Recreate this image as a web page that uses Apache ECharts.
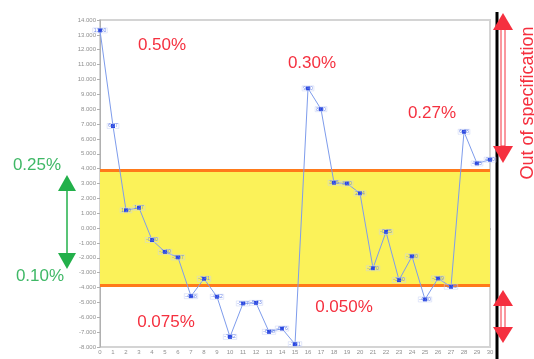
<!DOCTYPE html>
<html>
<head>
<meta charset="utf-8">
<title>ECharts</title>
<script type="text/javascript" src="https://cdn.jsdelivr.net/npm/echarts@6/dist/echarts.min.js"></script>
<style type="text/css">
html, body {
	margin: 0;
	height: 100%;
	overflow: hidden;
	background: #ffffff;
}
</style>
</head>
<body>
	<div id="main" style="width: 534px; height: 359px;"></div>
	<script type="text/javascript">
		// sample index on x, measured value on y
		var xValues = [0, 1, 2, 3, 4, 5, 6, 7, 8, 9, 10, 11, 12, 13, 14, 15,
			16, 17, 18, 19, 20, 21, 22, 23, 24, 25, 26, 27, 28, 29, 30];
		var yValues = [13.3, 6.87, 1.2, 1.37, -0.8, -1.6, -1.97, -4.58, -3.41, -4.62, -7.32,
			-5.07, -5.03, -6.98, -6.76, -7.81, 9.4, 8.0, 3.05, 3.0, 2.34,
			-2.7, -0.25, -3.5, -1.9, -4.8, -3.39, -3.95, 6.48, 4.35, 4.6];
		// spec limits (yellow band)
		var upperLimit = 3.9;
		var lowerLimit = -3.85;
		// percentages written on the chart
		var redNotes = ['0.50%', '0.30%', '0.27%', '0.075%', '0.050%'];
		var greenNotes = ['0.25%', '0.10%'];

		var points = xValues.map(function(x, i) {
			return [x, yValues[i]];
		});

		var red = '#f5303f';
		var green = '#22b04a';

		var myChart = echarts.init(document.getElementById('main'));
		var option = {
			animation : false,
			grid : {
				left : 100,
				right : 44,
				top : 20,
				bottom : 12,
				show : true,
				borderColor : '#d4d4d4',
				borderWidth : 2,
				backgroundColor : '#ffffff'
			},
			xAxis : {
				type : 'value',
				min : 0,
				max : 30,
				interval : 1,
				splitLine : { show : false },
				axisLine : { lineStyle : { color : '#b0b0b0' } },
				axisTick : { length : 2, lineStyle : { color : '#b0b0b0' } },
				axisLabel : { fontSize : 6, color : '#909090', margin : 2 }
			},
			yAxis : {
				type : 'value',
				min : -8,
				max : 14,
				interval : 1,
				splitLine : { show : false },
				axisLine : { show : true, lineStyle : { color : '#b0b0b0' } },
				axisTick : { show : true, length : 3, lineStyle : { color : '#b0b0b0' } },
				axisLabel : {
					fontSize : 6,
					color : '#909090',
					margin : 4,
					formatter : function(v) { return v.toFixed(3); }
				}
			},
			series : [ {
				type : 'line',
				data : points,
				symbol : 'rect',
				symbolSize : 4,
				lineStyle : { color : '#7e9cec', width : 1 },
				itemStyle : { color : '#2a46e0' },
				label : {
					show : true,
					position : 'inside',
					fontSize : 5,
					color : '#6a84e8',
					borderColor : '#c6d0f4',
					borderWidth : 0.5,
					padding : [0, 1],
					formatter : function(p) { return p.value[1].toFixed(2); }
				},
				z : 5,
				markArea : {
					silent : true,
					itemStyle : { color : '#fbf259' },
					data : [ [ { yAxis : lowerLimit }, { yAxis : upperLimit } ] ]
				},
				markLine : {
					silent : true,
					symbol : 'none',
					label : { show : false },
					lineStyle : { color : '#ff7a1a', width : 3, type : 'solid' },
					data : [ { yAxis : upperLimit }, { yAxis : lowerLimit } ]
				}
			} ],
			graphic : [
				// black separator
				{ type : 'line', shape : { x1 : 497, y1 : 12, x2 : 497, y2 : 359 },
					style : { stroke : '#000', lineWidth : 3 } },
				// upper red arrow
				{ type : 'rect', shape : { x : 501, y : 28, width : 4, height : 118 },
					style : { fill : '#fff', stroke : red, lineWidth : 1 } },
				{ type : 'polygon', shape : { points : [[503, 13], [493, 30], [513, 30]] },
					style : { fill : red } },
				{ type : 'polygon', shape : { points : [[503, 163], [493, 146], [513, 146]] },
					style : { fill : red } },
				// lower red arrow
				{ type : 'rect', shape : { x : 501, y : 304, width : 4, height : 25 },
					style : { fill : '#fff', stroke : red, lineWidth : 1 } },
				{ type : 'polygon', shape : { points : [[503, 290], [493, 306], [513, 306]] },
					style : { fill : red } },
				{ type : 'polygon', shape : { points : [[503, 343], [493, 327], [513, 327]] },
					style : { fill : red } },
				// green arrow
				{ type : 'line', shape : { x1 : 67, y1 : 188, x2 : 67, y2 : 256 },
					style : { stroke : green, lineWidth : 1.5 } },
				{ type : 'polygon', shape : { points : [[67, 175], [58, 191], [76, 191]] },
					style : { fill : green } },
				{ type : 'polygon', shape : { points : [[67, 269], [58, 253], [76, 253]] },
					style : { fill : green } },
				// side caption
				{ type : 'text', x : 528, y : 103, rotation : Math.PI / 2,
					style : { text : 'Out of specification', fill : red, fontSize : 18,
						fontFamily : 'Liberation Sans', align : 'center', verticalAlign : 'middle' } },
				// red notes
				{ type : 'text', x : 162, y : 45, style : { text : redNotes[0], fill : red, fontSize : 17,
					fontFamily : 'Liberation Sans', align : 'center', verticalAlign : 'middle' } },
				{ type : 'text', x : 312, y : 63, style : { text : redNotes[1], fill : red, fontSize : 17,
					fontFamily : 'Liberation Sans', align : 'center', verticalAlign : 'middle' } },
				{ type : 'text', x : 432, y : 113, style : { text : redNotes[2], fill : red, fontSize : 17,
					fontFamily : 'Liberation Sans', align : 'center', verticalAlign : 'middle' } },
				{ type : 'text', x : 166, y : 322, style : { text : redNotes[3], fill : red, fontSize : 17,
					fontFamily : 'Liberation Sans', align : 'center', verticalAlign : 'middle' } },
				{ type : 'text', x : 344, y : 307, style : { text : redNotes[4], fill : red, fontSize : 17,
					fontFamily : 'Liberation Sans', align : 'center', verticalAlign : 'middle' } },
				// green notes
				{ type : 'text', x : 37, y : 165, style : { text : greenNotes[0], fill : '#3fb866', fontSize : 17,
					fontFamily : 'Liberation Sans', align : 'center', verticalAlign : 'middle' } },
				{ type : 'text', x : 40, y : 276, style : { text : greenNotes[1], fill : '#3fb866', fontSize : 17,
					fontFamily : 'Liberation Sans', align : 'center', verticalAlign : 'middle' } }
			]
		};
		myChart.setOption(option);
	</script>
</body>
</html>
